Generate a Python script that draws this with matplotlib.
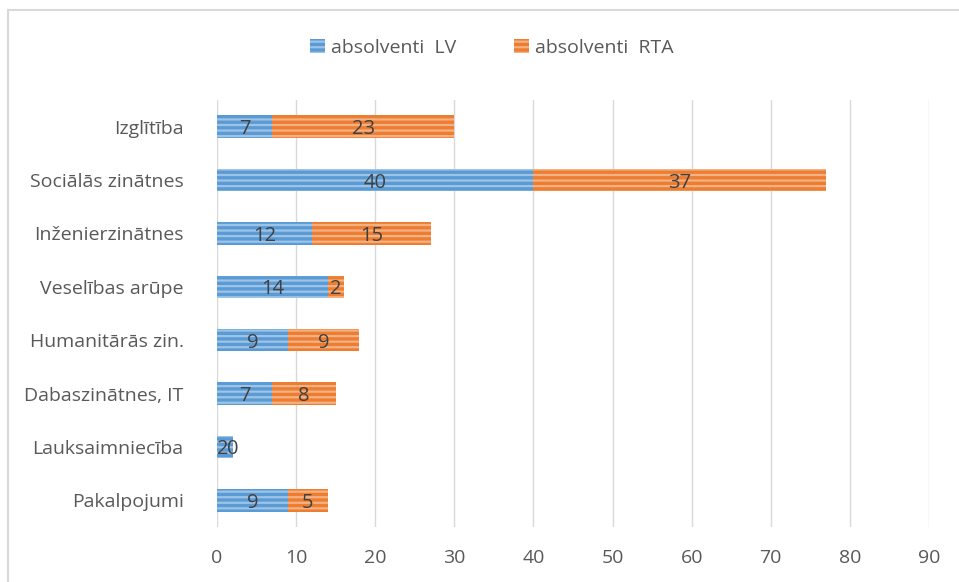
import matplotlib
matplotlib.use("Agg")
import matplotlib.pyplot as plt
import numpy as np
from matplotlib.lines import Line2D

categories = ['Izglītība', 'Sociālās zinātnes', 'Inženierzinātnes', 'Veselības arūpe',
              'Humanitārās zin.', 'Dabaszinātnes, IT', 'Lauksaimniecība', 'Pakalpojumi']
lv = [7, 40, 12, 14, 9, 7, 2, 9]
rta = [23, 37, 15, 2, 9, 8, 0, 5]
series_names = ['absolventi  LV', 'absolventi  RTA']

plt.rcParams['font.family'] = ['Open Sans', 'DejaVu Sans']
plt.rcParams['hatch.linewidth'] = 1.6
txt = '#595959'

fig = plt.figure(figsize=(9.59, 5.82), dpi=100)
ax = fig.add_axes([217 / 959, 1 - 527 / 582, 712 / 959, 427 / 582])

y = np.arange(len(categories))
h = 0.42
ax.barh(y, lv, height=h, color='#5B9BD5', edgecolor='#9DC3E6', hatch='---',
        linewidth=0, label=series_names[0])
ax.barh(y, rta, left=lv, height=h, color='#ED7D31', edgecolor='#F4B183', hatch='---',
        linewidth=0, label=series_names[1])

for i in range(len(categories)):
    c1 = lv[i] / 2
    c2 = lv[i] + rta[i] / 2
    if c2 - c1 < 2:
        # labels too close: push the first one left so both stay readable
        ax.text(c2 - 0.6, y[i], str(lv[i]), ha='right', va='center_baseline', fontsize=14.5, color='#404040')
    else:
        ax.text(c1, y[i], str(lv[i]), ha='center', va='center_baseline', fontsize=14.5, color='#404040')
    ax.text(c2, y[i], str(rta[i]), ha='center', va='center_baseline', fontsize=14.5, color='#404040')

ax.set_xlim(0, 90)
ax.set_ylim(len(categories) - 0.5, -0.5)
ax.set_xticks(range(0, 91, 10))
ax.set_yticks(y)
ax.set_yticklabels(categories)
ax.grid(axis='x', color='#D9D9D9', linewidth=1)
ax.set_axisbelow(True)
for s in ax.spines.values():
    s.set_visible(False)
ax.tick_params(axis='y', length=0, pad=24, labelsize=14, labelcolor=txt)
ax.tick_params(axis='x', length=0, pad=16, labelsize=14, labelcolor=txt)

ax.legend(loc='center', bbox_to_anchor=(492 / 959, 1 - 48 / 582), bbox_transform=fig.transFigure,
          ncol=2, frameon=False, fontsize=14, labelcolor=txt, handlelength=0.75, handleheight=0.75,
          handletextpad=0.3, columnspacing=3.0)

# chart border (top and left visible in crop)
fig.add_artist(Line2D([8 / 959, 1], [1 - 10 / 582, 1 - 10 / 582], color='#D9D9D9', lw=1.5,
                      transform=fig.transFigure))
fig.add_artist(Line2D([8 / 959, 8 / 959], [0, 1 - 10 / 582], color='#D9D9D9', lw=1.5,
                      transform=fig.transFigure))

fig.savefig('out.png', dpi=100)
